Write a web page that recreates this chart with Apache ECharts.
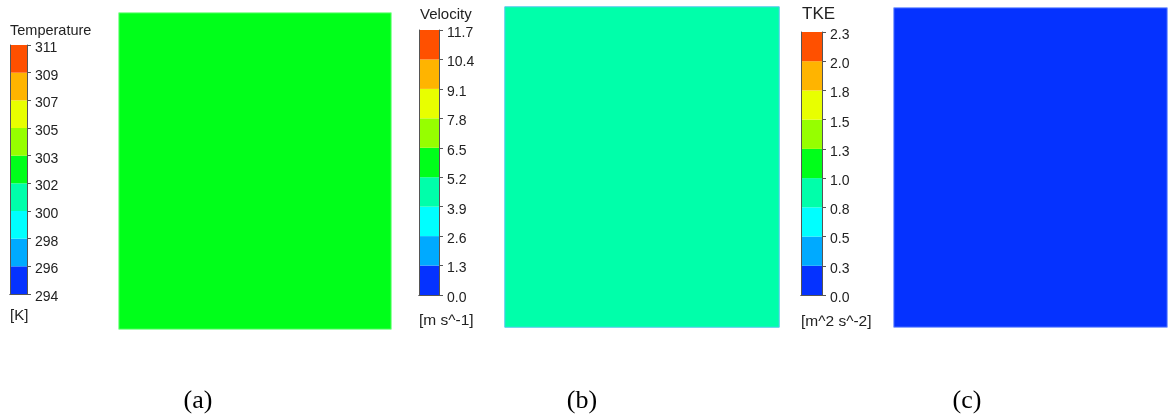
<!DOCTYPE html>
<html>
<head>
<meta charset="utf-8">
<script src="https://cdn.jsdelivr.net/npm/echarts@6/dist/echarts.min.js"></script>
<style>html,body{margin:0;padding:0;background:#fff}#c{width:1169px;height:416px}</style>
</head>
<body>
<div id="c"></div>
<script>
// ---- data ----
const titles = ['Temperature', 'Velocity', 'TKE'];
const units = ['[K]', '[m s^-1]', '[m^2 s^-2]'];
const panelLabels = ['(a)', '(b)', '(c)'];
const tempTicks = ['294', '296', '298', '300', '302', '303', '305', '307', '309', '311'];
const velTicks = ['0.0', '1.3', '2.6', '3.9', '5.2', '6.5', '7.8', '9.1', '10.4', '11.7'];
const tkeTicks = ['0.0', '0.3', '0.5', '0.8', '1.0', '1.3', '1.5', '1.8', '2.0', '2.3'];
const fieldValues = [302.5, 4.5, 0.1];
const bandColors = ['#0532ff', '#00aaff', '#00ffff', '#00ffaa', '#00ff1a', '#96ff00', '#e8ff00', '#ffb400', '#ff5000'];

// ---- layout ----
const layout = [
  { bar: {left: 10, top: 45, width: 17, height: 249}, field: {left: 119, top: 13, width: 272, height: 316},
    titleXY: [10, 31], titleSize: 14.5, unitXY: [10, 316], unitSize: 15, labelXY: [198, 401], fieldBorder: '#8cff96' },
  { bar: {left: 419, top: 30, width: 20, height: 265}, field: {left: 505, top: 7, width: 274, height: 320},
    titleXY: [420, 15], titleSize: 15, unitXY: [419, 321], unitSize: 15.5, labelXY: [582, 401], fieldBorder: '#5cc8f0' },
  { bar: {left: 801, top: 32, width: 21, height: 263}, field: {left: 894, top: 8, width: 273, height: 319},
    titleXY: [802, 14], titleSize: 17, unitXY: [801, 322], unitSize: 15.5, labelXY: [967, 401], fieldBorder: '#7f9cff' }
];
const allTicks = [tempTicks, velTicks, tkeTicks];
const FONT = '"Liberation Sans", Arial, sans-serif';

const grid = [], xAxis = [], yAxis = [], series = [], visualMap = [], graphic = [];
layout.forEach((L, p) => {
  const ticks = allTicks[p];
  const nb = ticks.length - 1;
  // colorbar grid
  const gB = grid.length;
  grid.push(Object.assign({}, L.bar));
  const xB = xAxis.length;
  xAxis.push({gridIndex: gB, type: 'category', data: ['c'], position: 'bottom', z: 5,
    axisLine: {show: true, lineStyle: {color: '#555', width: 1}}, axisTick: {show: false}, axisLabel: {show: false}});
  xAxis.push({gridIndex: gB, type: 'category', data: ['c'], position: 'top', z: 5,
    axisLine: {show: true, lineStyle: {color: '#555', width: 1}}, axisTick: {show: false}, axisLabel: {show: false}});
  const yB = yAxis.length;
  yAxis.push({gridIndex: gB, type: 'value', min: 0, max: nb, interval: 1, position: 'right', z: 5,
    axisLine: {show: true, onZero: false, lineStyle: {color: '#555', width: 1}},
    axisTick: {show: true, length: 4, lineStyle: {color: '#555'}},
    splitLine: {show: false},
    axisLabel: {show: true, margin: 8, fontSize: 14, color: '#222', fontFamily: FONT,
      verticalAlign: 'top', lineHeight: 6,
      formatter: v => ticks[Math.round(v)]}});
  yAxis.push({gridIndex: gB, type: 'value', min: 0, max: nb, interval: 1, position: 'left', z: 5,
    axisLine: {show: true, onZero: false, lineStyle: {color: '#555', width: 1}},
    axisTick: {show: false}, axisLabel: {show: false}, splitLine: {show: false}});
  for (let j = 0; j < nb; j++) {
    series.push({type: 'bar', stack: 'cb' + p, xAxisIndex: xB, yAxisIndex: yB, data: [1],
      barWidth: '100%', itemStyle: {color: bandColors[j]}, silent: true});
  }
  // field grid
  const gF = grid.length;
  grid.push(Object.assign({}, L.field));
  const xF = xAxis.length;
  xAxis.push({gridIndex: gF, type: 'category', data: ['f'], show: false});
  const yF = yAxis.length;
  yAxis.push({gridIndex: gF, type: 'category', data: ['f'], show: false});
  const sIdx = series.length;
  series.push({type: 'heatmap', xAxisIndex: xF, yAxisIndex: yF, data: [[0, 0, fieldValues[p]]],
    itemStyle: {borderColor: L.fieldBorder, borderWidth: 1}, silent: true});
  const pieces = [];
  for (let j = 0; j < nb; j++) {
    pieces.push({gte: parseFloat(ticks[j]), lt: parseFloat(ticks[j + 1]), color: bandColors[j]});
  }
  visualMap.push({type: 'piecewise', show: false, seriesIndex: sIdx, dimension: 2, pieces: pieces});
  // texts
  graphic.push({type: 'text', x: L.titleXY[0], y: L.titleXY[1],
    style: {text: titles[p], font: L.titleSize + 'px ' + FONT, fill: '#222', textVerticalAlign: 'middle'}});
  graphic.push({type: 'text', x: L.unitXY[0], y: L.unitXY[1],
    style: {text: units[p], font: L.unitSize + 'px ' + FONT, fill: '#222', textVerticalAlign: 'middle'}});
  graphic.push({type: 'text', x: L.labelXY[0], y: L.labelXY[1],
    style: {text: panelLabels[p], font: '26px "Liberation Serif", "Times New Roman", serif', fill: '#000',
      textAlign: 'center', textVerticalAlign: 'middle'}});
});

const chart = echarts.init(document.getElementById('c'), null, {renderer: 'canvas'});
chart.setOption({animation: false, backgroundColor: '#fff', grid, xAxis, yAxis, series, visualMap, graphic});
</script>
</body>
</html>
